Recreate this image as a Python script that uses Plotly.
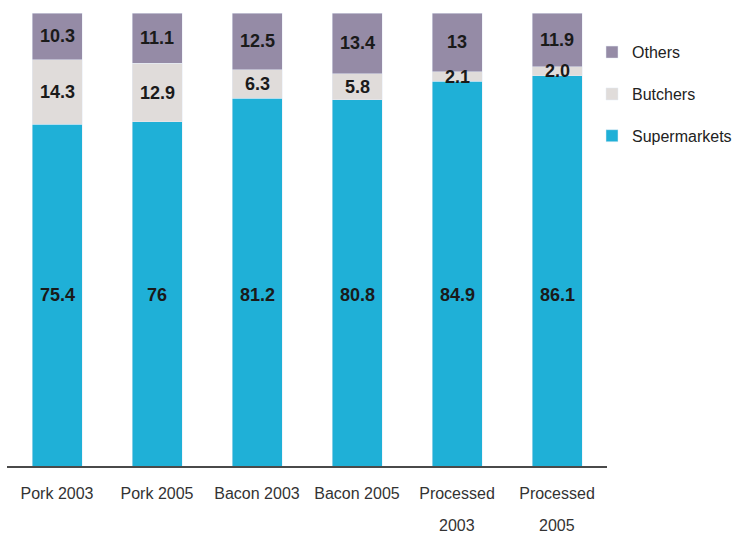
import plotly.graph_objects as go

categories = ["Pork 2003", "Pork 2005", "Bacon 2003", "Bacon 2005", "Processed 2003", "Processed 2005"]
tick_labels = ["Pork 2003", "Pork 2005", "Bacon 2003", "Bacon 2005", "Processed", "Processed"]
tick_second_line = ["", "", "", "", "2003", "2005"]
supermarkets = [75.4, 76, 81.2, 80.8, 84.9, 86.1]
butchers = [14.3, 12.9, 6.3, 5.8, 2.1, 2.0]
others = [10.3, 11.1, 12.5, 13.4, 13, 11.9]
butchers_text = ["14.3", "12.9", "6.3", "5.8", "2.1", "2.0"]
others_text = ["10.3", "11.1", "12.5", "13.4", "13", "11.9"]
super_text = ["75.4", "76", "81.2", "80.8", "84.9", "86.1"]

C_SUP = "#1fb0d7"
C_BUT = "#e0dcda"
C_OTH = "#958ba6"
FONT = "Liberation Sans, Arial, sans-serif"

fig = go.Figure()
fig.add_bar(x=categories, y=supermarkets, name="Supermarkets", marker_color=C_SUP, legendgroup="s", legendrank=3)
fig.add_bar(x=categories, y=butchers, name="Butchers", marker_color=C_BUT, legendgroup="b", legendrank=2)
fig.add_bar(x=categories, y=others, name="Others", marker_color=C_OTH, legendgroup="o", legendrank=1)

lab_font = dict(family=FONT, size=18, color="#1a1a1a")
sup_label_y = min(supermarkets) / 2
annos = []
for i, c in enumerate(categories):
    annos.append(dict(x=c, y=sup_label_y, text="<b>%s</b>" % super_text[i], showarrow=False, font=lab_font))
    annos.append(dict(x=c, y=supermarkets[i] + butchers[i] / 2, text="<b>%s</b>" % butchers_text[i], showarrow=False, font=lab_font))
    annos.append(dict(x=c, y=supermarkets[i] + butchers[i] + others[i] / 2, text="<b>%s</b>" % others_text[i], showarrow=False, font=lab_font))
    if tick_second_line[i]:
        annos.append(dict(x=c, y=0, yref="paper", yanchor="middle", yshift=-59, text=tick_second_line[i],
                          showarrow=False, font=dict(family=FONT, size=16, color="#333")))

fig.update_layout(
    barmode="stack",
    bargap=0.5,
    width=736, height=541,
    margin=dict(l=7, r=129, t=13, b=75, autoexpand=False),
    paper_bgcolor="white", plot_bgcolor="white",
    annotations=annos,
    showlegend=True,
    legend=dict(traceorder="grouped", tracegroupgap=18, x=0.975, xanchor="left", y=0.951, yanchor="top",
                font=dict(family=FONT, size=16, color="#222"), itemwidth=30, bgcolor="rgba(0,0,0,0)"),
    font=dict(family=FONT, size=16, color="#333"),
)
fig.update_xaxes(tickvals=categories, ticktext=tick_labels, showline=True,
                 linecolor="#4a4a4a", linewidth=2, ticks="", ticklabelstandoff=12, showgrid=False,
                 tickfont=dict(family=FONT, size=16, color="#333"))
fig.update_yaxes(range=[0, 100], visible=False, showgrid=False)

fig.write_html("out.html", config={"displayModeBar": False},
               post_script="document.body.style.margin='0';")
